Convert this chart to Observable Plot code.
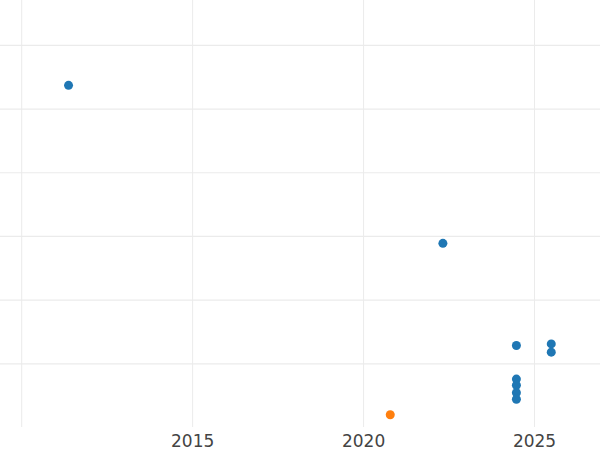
<!DOCTYPE html>
<html>
<head>
<meta charset="utf-8">
<script src="https://cdn.jsdelivr.net/npm/d3@7"></script>
<script src="https://cdn.jsdelivr.net/npm/@observablehq/plot@0.6"></script>
<style>
  html, body { margin: 0; padding: 0; background: #fff; }
  #chart svg { display: block; }
</style>
</head>
<body>
<div id="chart"></div>
<script>
const years  = [2011.37, 2022.32, 2024.47, 2025.49, 2025.49, 2024.47, 2024.47, 2024.47, 2024.47, 2020.78];
const values = [5.373, 2.892, 1.287, 1.313, 1.183, 0.760, 0.663, 0.545, 0.444, 0.200];
const groups = ["A", "A", "A", "A", "A", "A", "A", "A", "A", "B"];
const groupNames = ["A", "B"];
const groupColors = ["#1f77b4", "#ff7f0e"];
const xTicks = [2015, 2020, 2025];
const xGrid = [2010, 2015, 2020, 2025];
const yGrid = [1, 2, 3, 4, 5, 6];

const data = years.map((x, i) => ({x, y: values[i], g: groups[i]}));

const chart = Plot.plot({
  width: 600,
  height: 450,
  marginLeft: 0,
  marginRight: 0,
  marginTop: 0,
  marginBottom: 23,
  style: {fontFamily: "DejaVu Sans", background: "#fff"},
  x: {domain: [2009.38, 2026.93], axis: null},
  y: {domain: [0, 6.705], axis: null},
  color: {domain: groupNames, range: groupColors},
  marks: [
    Plot.ruleY(yGrid, {stroke: "#ebebeb", strokeWidth: 1.2, strokeOpacity: 1}),
    Plot.ruleX(xGrid, {stroke: "#ebebeb", strokeWidth: 1, strokeOpacity: 1}),
    Plot.axisX({ticks: xTicks, tickSize: 0, tickPadding: 7, tickFormat: d => String(d), fontSize: 17, fill: "#444", label: null}),
    Plot.dot(data, {x: "x", y: "y", fill: "g", r: 4.5, stroke: null})
  ]
});
document.getElementById("chart").appendChild(chart);
</script>
</body>
</html>
